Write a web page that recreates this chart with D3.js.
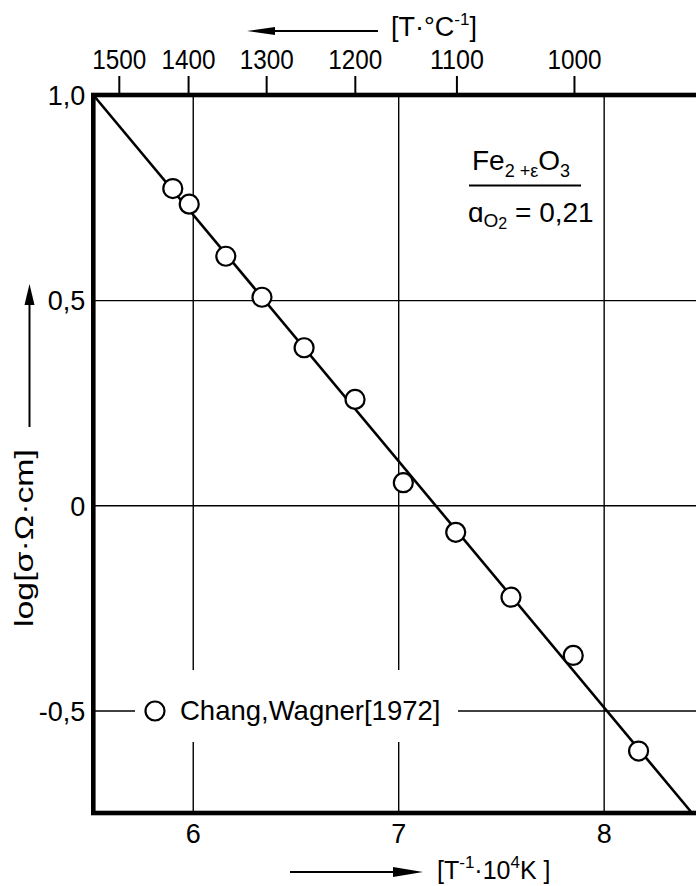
<!DOCTYPE html>
<html><head><meta charset="utf-8">
<script src="https://cdn.jsdelivr.net/npm/d3@7"></script>
<style>
body{margin:0;background:#fff}
svg{display:block}
text{font-family:"Liberation Sans",Arial,sans-serif;fill:#000}
</style>
</head><body>
<svg id="c" width="696" height="886"></svg>
<script>
// ---- data ----
const invT = [5.903, 5.983, 6.161, 6.337, 6.542, 6.790, 7.025, 7.280, 7.549, 7.852, 8.170];
const logSigma = [0.772, 0.734, 0.607, 0.507, 0.384, 0.258, 0.055, -0.066, -0.224, -0.366, -0.599];
const fitInvT = [5.516, 8.43];
const fitLogSigma = [1.0, -0.75];
const xTicks = [6, 7, 8];
const xTickLabels = ["6", "7", "8"];
const yTicks = [1.0, 0.5, 0, -0.5];
const yTickLabels = ["1,0", "0,5", "0", "-0,5"];
const topTicksC = [1500, 1400, 1300, 1200, 1100, 1000];
const legendLabel = "Chang,Wagner[1972]";

// ---- layout ----
const L = 93.3, R = 699, T = 95, B = 813;
const x = d3.scaleLinear().domain([5.516, 8.464]).range([L, R]);
const y = d3.scaleLinear().domain([-0.75, 1.0]).range([B, T]);
const svg = d3.select("#c");

// gridlines
const gx = svg.append("g").attr("transform", `translate(0,${B})`)
  .call(d3.axisBottom(x).tickValues(xTicks).tickSize(-(B - T)).tickFormat(""));
gx.select(".domain").remove();
gx.selectAll("line").attr("stroke", "#000").attr("stroke-width", 1.4);
const gy = svg.append("g").attr("transform", `translate(${L},0)`)
  .call(d3.axisLeft(y).tickValues(yTicks.filter(v => v < 1)).tickSize(-(R - L)).tickFormat(""));
gy.select(".domain").remove();
gy.selectAll("line").attr("stroke", "#000").attr("stroke-width", 1.4);

// legend background (interrupts grid)
svg.append("rect").attr("x", 135).attr("y", 670).attr("width", 323).attr("height", 72).attr("fill", "#fff");

// fit line
const line = d3.line().x(d => x(d[0])).y(d => y(d[1]));
svg.append("path").datum(d3.zip(fitInvT, fitLogSigma)).attr("d", line)
  .attr("fill", "none").attr("stroke", "#000").attr("stroke-width", 2.6);

// data points
svg.append("g").selectAll("circle").data(d3.zip(invT, logSigma)).join("circle")
  .attr("cx", d => x(d[0])).attr("cy", d => y(d[1])).attr("r", 9.5)
  .attr("fill", "#fff").attr("stroke", "#000").attr("stroke-width", 2.2);

// frame
svg.append("rect").attr("x", L).attr("y", T).attr("width", R - L).attr("height", B - T)
  .attr("fill", "none").attr("stroke", "#000").attr("stroke-width", 4.6);

// bottom axis labels
const ab = svg.append("g").attr("transform", `translate(0,${B})`)
  .call(d3.axisBottom(x).tickValues(xTicks).tickSize(0).tickFormat((d, i) => xTickLabels[i]));
ab.select(".domain").remove();
ab.selectAll("text").attr("y", 30).attr("dy", "0").attr("font-size", 27)
  .attr("font-family", "Liberation Sans, Arial, sans-serif").attr("fill", "#000");

// left axis labels
const al = svg.append("g").attr("transform", `translate(${L},0)`)
  .call(d3.axisLeft(y).tickValues(yTicks).tickSize(0).tickPadding(8).tickFormat((d, i) => yTickLabels[i]));
al.select(".domain").remove();
al.selectAll("text").attr("font-size", 27).attr("dy", "0.36em")
  .attr("font-family", "Liberation Sans, Arial, sans-serif").attr("fill", "#000");

// top axis (°C)
const at = svg.append("g").attr("transform", `translate(0,${T})`)
  .call(d3.axisTop(x).tickValues(topTicksC.map(c => 1e4 / (c + 273))).tickSize(19)
    .tickFormat((d, i) => topTicksC[i]));
at.select(".domain").remove();
at.selectAll("line").attr("stroke", "#000").attr("stroke-width", 2);
at.selectAll("text").attr("y", -26).attr("dy", "0").attr("font-size", 28)
  .attr("font-family", "Liberation Sans, Arial, sans-serif").attr("fill", "#000")
  .attr("textLength", 54).attr("lengthAdjust", "spacingAndGlyphs");

// legend
svg.append("circle").attr("cx", 155).attr("cy", 711).attr("r", 9.5)
  .attr("fill", "#fff").attr("stroke", "#000").attr("stroke-width", 2.2);
svg.append("text").attr("x", 180).attr("y", 720).attr("font-size", 27.5).text(legendLabel);

// annotation
const fe = svg.append("text").attr("x", 472).attr("y", 170).attr("font-size", 28);
fe.append("tspan").text("Fe");
fe.append("tspan").attr("font-size", 18).attr("dy", 7).text("2 +");
fe.append("tspan").attr("font-size", 18).text("ε");
fe.append("tspan").attr("dy", -7).text("O");
fe.append("tspan").attr("font-size", 18).attr("dy", 7).text("3");
svg.append("line").attr("x1", 469).attr("x2", 581).attr("y1", 185.5).attr("y2", 185.5)
  .attr("stroke", "#000").attr("stroke-width", 2);
const ao = svg.append("text").attr("x", 468).attr("y", 222).attr("font-size", 28);
ao.append("tspan").text("ɑ");
ao.append("tspan").attr("font-size", 19).attr("dy", 5).text("O");
ao.append("tspan").attr("font-size", 16).attr("dy", 2).text("2");
ao.append("tspan").attr("dy", -7).text(" = 0,21");

// arrows
function arrow(x1, y1, x2, y2, hl, hw) {
  const dx = x2 - x1, dy = y2 - y1, len = Math.hypot(dx, dy), ux = dx / len, uy = dy / len;
  const bx = x2 - ux * hl, by = y2 - uy * hl;
  svg.append("line").attr("x1", x1).attr("y1", y1).attr("x2", bx).attr("y2", by)
    .attr("stroke", "#000").attr("stroke-width", 2);
  svg.append("path").attr("d", `M${x2},${y2}L${bx - uy * hw},${by + ux * hw}L${bx + uy * hw},${by - ux * hw}Z`)
    .attr("fill", "#000");
}
arrow(378, 31, 247, 31, 28, 4);
arrow(290, 872, 423, 872, 30, 5);
arrow(29.5, 427, 29.5, 284, 21, 5);

// top axis title
const tt = svg.append("text").attr("x", 391).attr("y", 36).attr("font-size", 27);
tt.append("tspan").text("[T·°C");
tt.append("tspan").attr("font-size", 17).attr("dy", -11).text("-1");
tt.append("tspan").attr("dy", 11).text("]");

// bottom axis title
const bt = svg.append("text").attr("x", 437).attr("y", 879).attr("font-size", 25);
bt.append("tspan").text("[T");
bt.append("tspan").attr("font-size", 17).attr("dy", -11).text("-1");
bt.append("tspan").attr("dy", 11).text("·10");
bt.append("tspan").attr("font-size", 17).attr("dy", -11).text("4");
bt.append("tspan").attr("dy", 11).text("K ]");

// y axis title
svg.append("text").attr("transform", "translate(33,538) rotate(-90)")
  .attr("text-anchor", "middle").attr("font-size", 26)
  .attr("textLength", 178).attr("lengthAdjust", "spacingAndGlyphs")
  .text("log[σ·Ω·cm]");
</script>
</body></html>
